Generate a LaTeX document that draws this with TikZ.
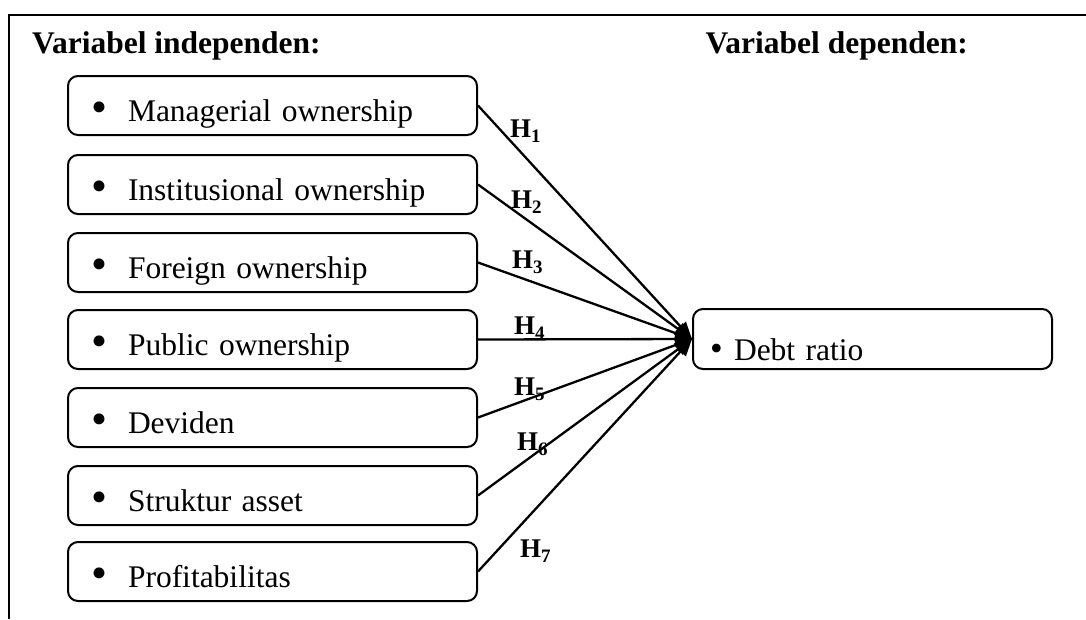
\documentclass[tikz,border=0pt]{standalone}
\usepackage{fontspec}
\setmainfont{Liberation Serif}
\usetikzlibrary{arrows.meta}
\newcommand{\hsub}[1]{H\raisebox{-5pt}{\fontsize{19}{19}\selectfont #1}}
\begin{document}
\begin{tikzpicture}[x=1pt,y=1pt,
  boxtext/.style={font=\fontsize{31.5}{36}\selectfont},
  ivbox/.style={draw, line width=2pt, rounded corners=10pt, boxtext,
    inner xsep=23pt, inner ysep=0pt, text width=363pt, align=left,
    minimum width=409pt, minimum height=59pt, text height=45pt, text depth=14pt},
  dvbox/.style={draw, line width=2pt, rounded corners=10pt, boxtext,
    inner xsep=17pt, inner ysep=0pt, text width=325pt, align=left,
    minimum width=359pt, minimum height=60pt, text height=51pt, text depth=9pt},
  heading/.style={font=\bfseries\fontsize{31.5}{36}\selectfont, inner sep=0pt},
  hlabel/.style={font=\bfseries\fontsize{27}{30}\selectfont, inner sep=0pt, anchor=base west},
  arr/.style={line width=2.3pt, -{Triangle[length=17pt,width=14pt]}}
]
\useasboundingbox (0,0) rectangle (1086,-619);
% frame
\draw[line width=2.5pt] (9,-619) -- (9,-15) -- (1086,-15);
% headings
\node[heading, anchor=base west] (hind) at (32,-53) {Variabel independen:};
\node[heading, anchor=base east] (hdep) at (968,-53) {Variabel dependen:};
% independent boxes
\newcommand{\bl}{\makebox[37pt][l]{\raisebox{-1pt}{\scalebox{1.45}{\textbullet}}}}
\node[ivbox] (b1) at (272.5,-105.5) {\bl Managerial ownership};
\node[ivbox] (b2) at (272.5,-184.5) {\bl Institusional ownership};
\node[ivbox] (b3) at (272.5,-262.5) {\bl Foreign ownership};
\node[ivbox] (b4) at (272.5,-339.5) {\bl Public ownership};
\node[ivbox] (b5) at (272.5,-417.5) {\bl Deviden};
\node[ivbox] (b6) at (272.5,-495.5) {\bl Struktur asset};
\node[ivbox] (b7) at (272.5,-571.5) {\bl Profitabilitas};
% dependent box
\node[dvbox] (dr) at (872.5,-339) {\makebox[24pt][l]{\scalebox{1.15}{\textbullet}}Debt ratio};
% arrows
\foreach \i in {1,...,7} {
  \draw[arr] (b\i.east) -- (dr.west);
}
% labels
\node[hlabel] (l1) at (510,-137) {\hsub{1}};
\node[hlabel] (l2) at (511,-208) {\hsub{2}};
\node[hlabel] (l3) at (512,-268) {\hsub{3}};
\node[hlabel] (l4) at (514,-334) {\hsub{4}};
\node[hlabel] (l5) at (514,-395) {\hsub{5}};
\node[hlabel] (l6) at (517,-450) {\hsub{6}};
\node[hlabel] (l7) at (520,-557) {\hsub{7}};
\end{tikzpicture}
\end{document}
